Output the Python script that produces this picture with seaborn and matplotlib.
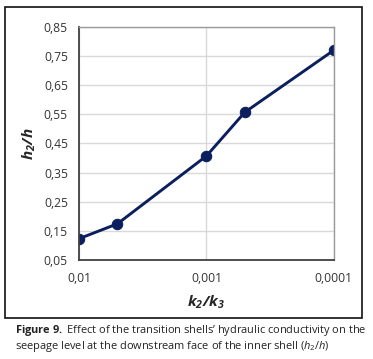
import numpy as np
import pandas as pd
import matplotlib
matplotlib.use('Agg')
import matplotlib.pyplot as plt
import seaborn as sns
from matplotlib.patches import Rectangle
from matplotlib.ticker import FixedLocator, FixedFormatter, NullLocator

# dati
k_ratio = [0.01, 0.005, 0.001, 0.0005, 0.0001]
h_ratio = [0.123, 0.174, 0.407, 0.557, 0.770]
y_ticks = [0.05, 0.15, 0.25, 0.35, 0.45, 0.55, 0.65, 0.75, 0.85]
y_labels = ['0,05', '0,15', '0,25', '0,35', '0,45', '0,55', '0,65', '0,75', '0,85']
x_ticks = [0.01, 0.001, 0.0001]
x_labels = ['0,01', '0,001', '0,0001']

df = pd.DataFrame({'k': k_ratio, 'h': h_ratio})

sns.set_style('white')
plt.rcParams['font.family'] = ['Open Sans', 'DejaVu Sans']
plt.rcParams['mathtext.fontset'] = 'custom'
plt.rcParams['mathtext.rm'] = 'Open Sans'
plt.rcParams['mathtext.it'] = 'Open Sans:italic'
plt.rcParams['mathtext.bf'] = 'Open Sans:bold:italic'
plt.rcParams['mathtext.sf'] = 'Open Sans:bold'

fig = plt.figure(figsize=(3.73, 3.59), dpi=100)
ax = fig.add_axes([0.212, 0.276, 0.683, 0.649])

line_col = '#0b1f5e'
sns.lineplot(data=df, x='k', y='h', ax=ax, color=line_col, lw=2.1,
             marker='o', markersize=7.5, markeredgecolor=line_col, markerfacecolor=line_col)

ax.set_xscale('log')
ax.set_xlim(0.01, 0.0001)
ax.set_ylim(0.05, 0.85)
ax.xaxis.set_major_locator(FixedLocator(x_ticks))
ax.xaxis.set_major_formatter(FixedFormatter(x_labels))
ax.xaxis.set_minor_locator(NullLocator())
ax.yaxis.set_major_locator(FixedLocator(y_ticks))
ax.yaxis.set_major_formatter(FixedFormatter(y_labels))
ax.tick_params(axis='both', length=0, labelsize=8.7, colors='#333333')
ax.tick_params(axis='y', pad=8)
ax.tick_params(axis='x', pad=9)
ax.grid(True, color='#d9d9d9', lw=1)
ax.set_axisbelow(True)
for s in ['left', 'bottom']:
    ax.spines[s].set_color('#404040')
    ax.spines[s].set_linewidth(1.3)
for s in ['top', 'right']:
    ax.spines[s].set_color('#9a9a9a')
    ax.spines[s].set_linewidth(1)

ax.set_xlabel(r'$\mathbf{k_2/k_3}$', fontsize=11, labelpad=6)
ax.set_ylabel(r'$\mathbf{h_2/h}$', fontsize=11, labelpad=4)

# cornice esterna
fig.patches.append(Rectangle((5 / 373, 1 - 318 / 359), 357 / 373, 311 / 359,
                             transform=fig.transFigure, fill=False, ec='#111111', lw=1.2))

# didascalia
fig.text(15 / 373, 1 - 331 / 359,
         r'$\mathsf{Figure\ 9.}$ Effect of the transition shells' + '\u2019 hydraulic conductivity on the',
         fontsize=7.9, va='center', ha='left', color='#222222')
fig.text(15 / 373, 1 - 346.5 / 359,
         r'seepage level at the downstream face of the inner shell ($h_2$/$h$)',
         fontsize=7.9, va='center', ha='left', color='#222222')

plt.savefig('out.png', dpi=100)
